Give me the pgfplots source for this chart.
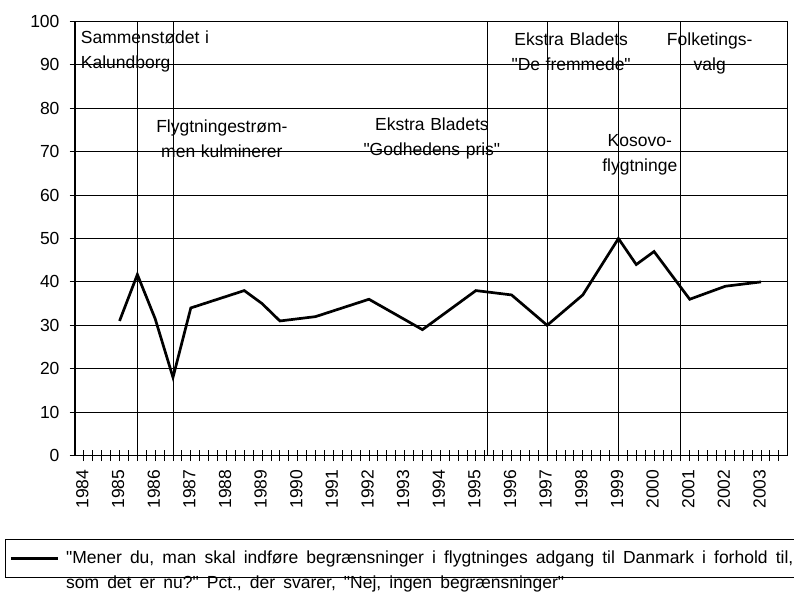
\documentclass[border=0pt]{standalone}
\usepackage{pgfplots}
\pgfplotsset{compat=1.18}
\usepackage{fontspec}
\setmainfont{Liberation Sans}[Ligatures=TeXOff, WordSpace=1.15]
\begin{document}
\fontsize{17.5}{25}\selectfont
\begin{tikzpicture}
\useasboundingbox (0,0) rectangle (794pt,592pt);
\begin{axis}[
  scale only axis, width=712.7pt, height=434pt,
  at={(75pt,136.5pt)}, anchor=south west,
  xmin=0, xmax=80, ymin=0, ymax=100,
  /pgf/number format/assume math mode=true,
  axis line style={line width=1.5pt},
  tick pos=left,
  ytick={0,10,...,100},
  xtick={1,...,79}, xticklabels={},
  tick align=center, major tick length=11pt,
  tick style={line width=0.9pt, black},
  ymajorgrids, major grid style={line width=0.9pt, black},
  extra x ticks={0.5,4.5,...,76.5},
  extra x tick labels={1984,1985,1986,1987,1988,1989,1990,1991,1992,1993,1994,1995,1996,1997,1998,1999,2000,2001,2002,2003},
  extra x tick style={major tick length=0pt, grid=none, xticklabel style={rotate=90, anchor=east, xshift=-8pt, yshift=-3pt}},
  yticklabel style={xshift=-4pt},
  legend style={at={(-0.0982,-0.193)}, anchor=north west, draw=black, line width=0.8pt,
    inner xsep=4pt, inner ysep=9pt, legend cell align=left,
    /tikz/every even column/.append style={column sep=0pt}},
  legend image code/.code={\draw[line width=2.7pt,black] (0pt,0pt) -- (47pt,0pt); \path (52pt,0pt);},
]
\addplot[black, line width=0.9pt, forget plot] coordinates {(7,0) (7,100)};
\addplot[black, line width=0.9pt, forget plot] coordinates {(11,0) (11,100)};
\addplot[black, line width=0.9pt, forget plot] coordinates {(46.25,0) (46.25,100)};
\addplot[black, line width=0.9pt, forget plot] coordinates {(53,0) (53,100)};
\addplot[black, line width=0.9pt, forget plot] coordinates {(61,0) (61,100)};
\addplot[black, line width=0.9pt, forget plot] coordinates {(68,0) (68,100)};
\addplot[black, line width=2.7pt, line join=miter] coordinates {
(5,31.0) (7,41.7) (9,31.5) (11,18) (13,34) (19,38) (21,35) (23,31) (27,32) (33,36) (39,29)
(45,38) (49,37) (53,30) (57,37) (61,50) (63,44) (65,47) (69,36) (73,39) (77,40)};
\addlegendentry{\parbox[t]{800pt}{\raggedright\spaceskip=8.1pt\relax "Mener du, man skal indføre begrænsninger i flygtninges adgang til Danmark i forhold til,\\ som det er nu?" Pct., der svarer, "Nej, ingen begrænsninger"}}
\node[align=left, anchor=west, inner sep=0pt] at (axis cs:0.64,93.0) {Sammenstødet i\\Kalundborg};
\node[align=center, inner sep=0pt] at (axis cs:16.49,73.0) {Flygtningestrøm-\\men kulminerer};
\node[align=center, inner sep=0pt] at (axis cs:40.06,73.1) {Ekstra Bladets\\"Godhedens pris"};
\node[align=center, inner sep=0pt] at (axis cs:55.69,93.0) {Ekstra Bladets\\"De fremmede"};
\node[align=center, inner sep=0pt] at (axis cs:71.25,92.6) {Folketings-\\valg};
\node[align=center, inner sep=0pt] at (axis cs:63.4,69.2) {Kosovo-\\flygtninge};
\end{axis}
\end{tikzpicture}
\end{document}
